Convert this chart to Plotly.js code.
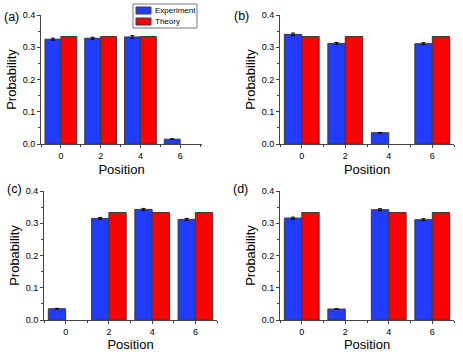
<!DOCTYPE html>
<html>
<head>
<meta charset="utf-8">
<script src="https://cdn.plot.ly/plotly-3.0.1.min.js"></script>
<style>
  html, body { margin: 0; padding: 0; background: #fff; }
  #chart { width: 463px; height: 352px; }
</style>
</head>
<body>
<div id="chart"></div>
<script>
// positions of the walker
const positions = [0, 2, 4, 6];

// (a)
const expA = [0.325, 0.328, 0.332, 0.015];
const errA = [0.003, 0.003, 0.004, 0.001];
const theoryA = [0.3333, 0.3333, 0.3333, 0];
// (b)
const expB = [0.340, 0.312, 0.035, 0.311];
const errB = [0.004, 0.003, 0.001, 0.003];
const theoryB = [0.3333, 0.3333, 0, 0.3333];
// (c)
const expC = [0.035, 0.315, 0.343, 0.312];
const errC = [0.001, 0.003, 0.003, 0.003];
const theoryC = [0, 0.3333, 0.3333, 0.3333];
// (d)
const expD = [0.316, 0.034, 0.342, 0.311];
const errD = [0.003, 0.001, 0.003, 0.003];
const theoryD = [0.3333, 0, 0.3333, 0.3333];

const panelLabels = ['(a)', '(b)', '(c)', '(d)'];
const legendNames = ['Experiment', 'Theory'];

const BLUE = '#1f3cff';
const RED = '#ff0000';
const EDGE = '#3a3a3a';
const FONT = 'Liberation Sans, Arial, sans-serif';

const panels = [
    {exp: expA, err: errA, th: theoryA},
    {exp: expB, err: errB, th: theoryB},
    {exp: expC, err: errC, th: theoryC},
    {exp: expD, err: errD, th: theoryD}
];

let data = [];
panels.forEach((p, i) => {
    const ax = i === 0 ? '' : String(i + 1);
    data.push({
        type: 'bar',
        x: positions,
        y: p.exp,
        name: legendNames[0],
        showlegend: false,
        xaxis: 'x' + ax,
        yaxis: 'y' + ax,
        marker: {color: BLUE, line: {color: EDGE, width: p.exp.map(v => v > 0 ? 1 : 0)}},
        error_y: {type: 'data', array: p.err, visible: true, color: '#000', thickness: 1, width: 2}
    });
    data.push({
        type: 'bar',
        x: positions,
        y: p.th,
        name: legendNames[1],
        showlegend: false,
        xaxis: 'x' + ax,
        yaxis: 'y' + ax,
        marker: {color: RED, line: {color: EDGE, width: p.th.map(v => v > 0 ? 1 : 0)}}
    });
});

// panel placement in pixels (left, right, top, bottom of plot area)
const W = 463, H = 352;
const boxes = [
    {l: 41, r: 202, t: 15, b: 144, xr: [-1, 7.1], lab: [11, 17]},
    {l: 280, r: 454, t: 15, b: 144, xr: [-1, 7], lab: [242, 16]},
    {l: 44, r: 217, t: 191, b: 320, xr: [-1, 7], lab: [14, 189]},
    {l: 280, r: 454, t: 191, b: 320, xr: [-1, 7], lab: [241, 189]}
];

const xAxisBase = {
    tickmode: 'array', tickvals: positions, ticktext: positions.map(String),
    ticks: 'outside', ticklen: 3, tickcolor: '#444', tickwidth: 1,
    minor: {dtick: 1, tick0: 1, ticks: 'outside', ticklen: 2, tickcolor: '#444'},
    showline: true, linecolor: '#444', linewidth: 1,
    showgrid: false, zeroline: false, fixedrange: true,
    tickfont: {family: FONT, size: 9, color: '#000'},
    title: {text: 'Position', font: {family: FONT, size: 13, color: '#000'}, standoff: 5}
};
const yAxisBase = {
    range: [0, 0.4], dtick: 0.1, tick0: 0, tickformat: '.1f',
    ticks: 'outside', ticklen: 3, tickcolor: '#444', tickwidth: 1,
    minor: {dtick: 0.05, ticks: 'outside', ticklen: 2, tickcolor: '#444'},
    showline: true, linecolor: '#444', linewidth: 1,
    showgrid: false, zeroline: false, fixedrange: true,
    tickfont: {family: FONT, size: 9, color: '#000'},
    title: {text: 'Probability', font: {family: FONT, size: 13, color: '#000'}, standoff: 3}
};

const layout = {
    width: W, height: H,
    margin: {l: 0, r: 0, t: 0, b: 0},
    paper_bgcolor: '#fff', plot_bgcolor: '#fff',
    barmode: 'group', bargap: 0.2, bargroupgap: 0,
    font: {family: FONT, color: '#000'},
    showlegend: false,
    annotations: [],
    shapes: []
};

boxes.forEach((b, i) => {
    const ax = i === 0 ? '' : String(i + 1);
    layout['xaxis' + ax] = Object.assign({}, xAxisBase, {
        domain: [b.l / W, b.r / W], range: b.xr, anchor: 'y' + ax
    });
    layout['yaxis' + ax] = Object.assign({}, yAxisBase, {
        domain: [1 - b.b / H, 1 - b.t / H], anchor: 'x' + ax
    });
    layout.annotations.push({
        text: panelLabels[i], xref: 'paper', yref: 'paper',
        x: b.lab[0] / W, y: 1 - b.lab[1] / H,
        xanchor: 'center', yanchor: 'middle', showarrow: false,
        font: {family: FONT, size: 12.5, color: '#000'}
    });
});

// compact legend box in panel (a), drawn like the original one
const px = (x) => x / W, py = (y) => 1 - y / H;
layout.shapes.push({
    type: 'rect', xref: 'paper', yref: 'paper',
    x0: px(133), x1: px(197), y0: py(4), y1: py(28),
    line: {color: '#777', width: 1}, fillcolor: '#fff'
});
[BLUE, RED].forEach((c, k) => {
    const top = 7 + k * 11;
    layout.shapes.push({
        type: 'rect', xref: 'paper', yref: 'paper',
        x0: px(136), x1: px(151), y0: py(top), y1: py(top + 7),
        line: {color: EDGE, width: 1}, fillcolor: c
    });
    layout.annotations.push({
        text: legendNames[k], xref: 'paper', yref: 'paper',
        x: px(153), y: py(top + 3.5), xanchor: 'left', yanchor: 'middle',
        showarrow: false, font: {family: FONT, size: 8, color: '#000'}
    });
});

Plotly.newPlot('chart', data, layout, {staticPlot: true});
</script>
</body>
</html>
